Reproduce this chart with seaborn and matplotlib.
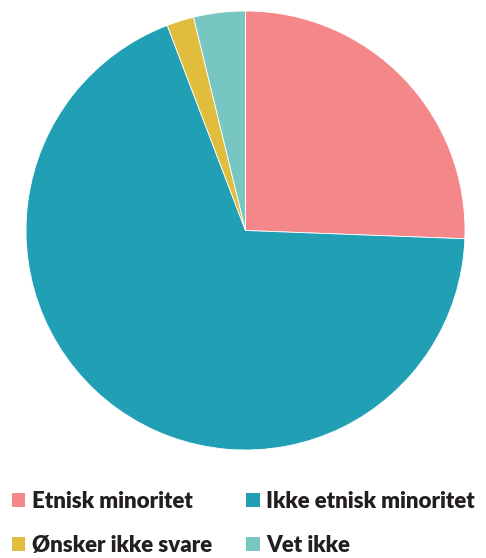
import matplotlib
matplotlib.use("Agg")
import matplotlib.pyplot as plt
from matplotlib.patches import Patch
import seaborn as sns

categories = ["Etnisk minoritet", "Ikke etnisk minoritet", "Ønsker ikke svare", "Vet ikke"]
shares = [25.6, 68.6, 2.0, 3.8]
colors = ["#F4878A", "#219FB4", "#E1BD3E", "#78C6C1"]

sns.set_theme(style="white")
plt.rcParams["font.family"] = ["Lato", "DejaVu Sans"]

W, H = 486, 558
fig = plt.figure(figsize=(W / 100, H / 100), dpi=100)
fig.patch.set_facecolor("white")

cx, cy, r = 245.5, 230.5, 219.5
ax = fig.add_axes([(cx - r) / W, 1 - (cy + r) / H, 2 * r / W, 2 * r / H])
ax.pie(shares, colors=colors, startangle=90, counterclock=False,
       wedgeprops=dict(linewidth=0.6, edgecolor="white"), radius=1)
ax.set_xlim(-1, 1)
ax.set_ylim(-1, 1)
ax.set_aspect("equal")
ax.axis("off")

# legend reads row by row: matplotlib fills columns first, so reorder
order = [0, 2, 1, 3]
handles = [Patch(facecolor=colors[i], edgecolor="none") for i in order]
labels = [categories[i] for i in order]
leg = fig.legend(handles, labels, loc="upper left",
                 bbox_to_anchor=(3 / W, 1 - 482 / H), ncol=2, frameon=False,
                 prop=dict(weight="heavy", size=16), labelcolor="#231F20",
                 handlelength=0.6, handleheight=0.6, handletextpad=0.3,
                 columnspacing=1.55, labelspacing=1.05, borderaxespad=0)

fig.savefig("out.png", dpi=100, facecolor="white")
